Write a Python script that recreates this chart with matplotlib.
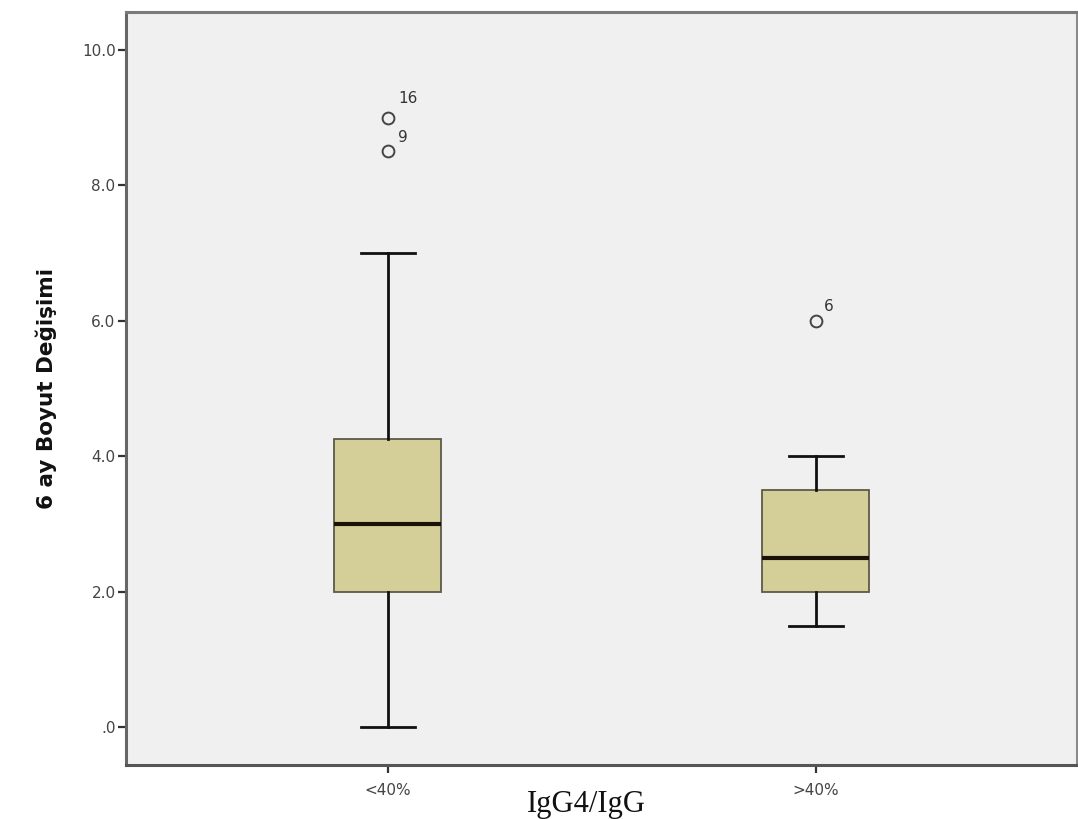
import matplotlib
matplotlib.use("Agg")
import matplotlib.pyplot as plt

categories = ["<40%", ">40%"]
q1 = [2.0, 2.0]
medians = [3.0, 2.5]
q3 = [4.25, 3.5]
whisk_lo = [0.0, 1.5]
whisk_hi = [7.0, 4.0]
outliers = [[8.5, 9.0], [6.0]]
outlier_ids = [["9", "16"], ["6"]]
yticks = [0, 2, 4, 6, 8, 10]
ytick_labels = [".0", "2.0", "4.0", "6.0", "8.0", "10.0"]

fig = plt.figure(figsize=(10.78, 8.19), dpi=100)
ax = fig.add_axes([126/1078, 1-765/819, 951/1078, 753/819])
ax.set_facecolor("#F0F0F0")

stats = []
for i, c in enumerate(categories):
    stats.append(dict(med=medians[i], q1=q1[i], q3=q3[i],
                      whislo=whisk_lo[i], whishi=whisk_hi[i],
                      fliers=outliers[i], label=c))

positions = [1, 2]
ax.bxp(stats, positions=positions, widths=0.25, patch_artist=True,
       boxprops=dict(facecolor="#D4CF98", edgecolor="#5C5A48", linewidth=1.3),
       medianprops=dict(color="#1A1208", linewidth=3.0),
       whiskerprops=dict(color="#111111", linewidth=2.0),
       capprops=dict(color="#111111", linewidth=2.0),
       capwidths=0.125,
       flierprops=dict(marker="o", markersize=8.5, markerfacecolor="none",
                       markeredgecolor="#444444", markeredgewidth=1.4))

offsets = {"16": (14.5, 13.5), "9": (10.5, 10), "6": (9.5, 10.5)}
for pos, vals, ids in zip(positions, outliers, outlier_ids):
    for v, lab in zip(vals, ids):
        ax.annotate(lab, (pos, v), xytext=offsets.get(lab, (9, 10)),
                    textcoords="offset points", fontsize=11, color="#333333",
                    ha="center", va="center")

ax.set_xlim(0.388, 2.61)
ax.set_ylim(-0.56, 10.56)
ax.set_yticks(yticks)
ax.set_yticklabels(ytick_labels)
ax.set_xticks(positions)
ax.set_xticklabels(categories)
ax.tick_params(axis="both", labelsize=11, labelcolor="#444444",
               color="#333333", length=6, width=1.6, direction="out")
ax.tick_params(axis="y", pad=1.5)
ax.tick_params(axis="x", pad=7)

ax.spines["left"].set_color("#666666")
ax.spines["bottom"].set_color("#555555")
ax.spines["top"].set_color("#7A7A7A")
ax.spines["right"].set_color("#8A8A8A")
for s in ax.spines.values():
    s.set_linewidth(2.2)

ax.set_ylabel("6 ay Boyut Değişimi", fontsize=15.5, fontweight="bold",
              color="#111111")
ax.yaxis.set_label_coords(-69/951, 0.5)
fig.text(586/1078, 1-812/819, "IgG4/IgG", fontsize=22,
         family="Liberation Serif", ha="center", va="baseline", color="#111111")

fig.savefig("out.png", dpi=100, facecolor="white")
